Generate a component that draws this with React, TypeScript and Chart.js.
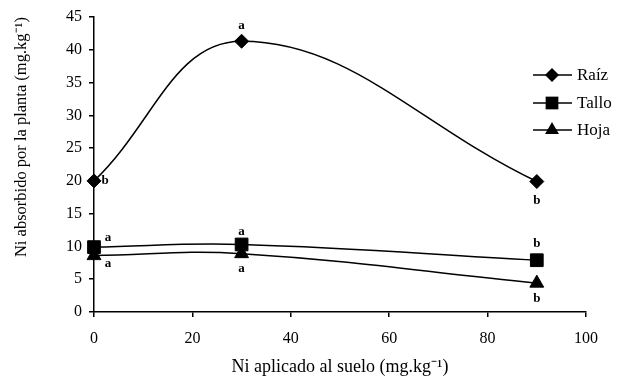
import React, { useEffect, useRef } from 'react';
import { Chart, registerables } from 'chart.js';

Chart.register(...registerables);

const xValues = [0, 30, 90];
const raizValues = [20.0, 41.3, 19.9];
const talloValues = [9.9, 10.3, 7.9];
const hojaValues = [8.6, 8.9, 4.4];
const seriesNames = ['Raíz', 'Tallo', 'Hoja'];
const raizLetters = ['b', 'a', 'b'];
const talloLetters = ['a', 'a', 'b'];
const hojaLetters = ['a', 'a', 'b'];
const xTickValues = [0, 20, 40, 60, 80, 100];
const yTickValues = [0, 5, 10, 15, 20, 25, 30, 35, 40, 45];
const xTitle = 'Ni aplicado al suelo (mg.kg⁻¹)';
const yTitle = 'Ni absorbido por la planta (mg.kg⁻¹)';

const FONT = "'Liberation Serif', 'Times New Roman', serif";

// letter placement offsets per series/point (dx, dy) in pixels
const letterOffsets = [
  [[11, 0], [0, -16], [0, 19]],
  [[14, -9], [0, -13], [0, -17]],
  [[14, 8], [0, 15], [0, 15]],
];

const styles = ['rectRot', 'rect', 'triangle'];
const radii = [7, 9, 8];

function drawMarker(ctx: CanvasRenderingContext2D, style: string, r: number, x: number, y: number) {
  ctx.beginPath();
  if (style === 'rectRot') {
    ctx.moveTo(x, y - r);
    ctx.lineTo(x + r, y);
    ctx.lineTo(x, y + r);
    ctx.lineTo(x - r, y);
  } else if (style === 'rect') {
    const s = r * Math.SQRT1_2;
    ctx.rect(x - s, y - s, 2 * s, 2 * s);
  } else {
    const size = (r * 3) / Math.sqrt(3);
    const h = (size * Math.sqrt(3)) / 2;
    ctx.moveTo(x - size / 2, y + h / 3);
    ctx.lineTo(x + size / 2, y + h / 3);
    ctx.lineTo(x, y - (2 * h) / 3);
  }
  ctx.closePath();
  ctx.fill();
}

const lettersPlugin = {
  id: 'letters',
  afterDatasetsDraw(chart: any) {
    const ctx = chart.ctx;
    const letterSets = [raizLetters, talloLetters, hojaLetters];
    ctx.save();
    ctx.fillStyle = '#000';
    ctx.font = `bold 13px ${FONT}`;
    ctx.textAlign = 'center';
    ctx.textBaseline = 'middle';
    letterSets.forEach((letters, di) => {
      const meta = chart.getDatasetMeta(di);
      meta.data.forEach((pt: any, i: number) => {
        const [dx, dy] = letterOffsets[di][i];
        ctx.fillText(letters[i], pt.x + dx, pt.y + dy);
      });
    });
    ctx.restore();
  },
};

const legendPlugin = {
  id: 'customLegend',
  afterDraw(chart: any) {
    const ctx = chart.ctx;
    ctx.save();
    const rows = [75, 103, 130];
    seriesNames.forEach((name, i) => {
      const y = rows[i];
      ctx.strokeStyle = '#000';
      ctx.lineWidth = 1.5;
      ctx.beginPath();
      ctx.moveTo(533, y);
      ctx.lineTo(572, y);
      ctx.stroke();
      ctx.fillStyle = '#000';
      drawMarker(ctx, styles[i], radii[i], 552, y);
      ctx.font = `17px ${FONT}`;
      ctx.textAlign = 'left';
      ctx.textBaseline = 'middle';
      ctx.fillText(name, 577, y + 1);
    });
    ctx.restore();
  },
};

export default function App() {
  const ref = useRef<HTMLCanvasElement>(null);
  useEffect(() => {
    document.body.style.margin = '0';
    const mk = (label: string, vals: number[], i: number) => ({
      label,
      data: xValues.map((x, k) => ({ x, y: vals[k] })),
      borderColor: '#000',
      backgroundColor: '#000',
      pointBackgroundColor: '#000',
      pointBorderColor: '#000',
      borderWidth: 1.5,
      pointStyle: styles[i],
      pointRadius: radii[i],
      pointBorderWidth: 1,
      tension: 0.4,
      clip: false as any,
    });
    const chart = new Chart(ref.current!, {
      type: 'line',
      data: {
        datasets: [
          mk(seriesNames[0], raizValues, 0),
          mk(seriesNames[1], talloValues, 1),
          mk(seriesNames[2], hojaValues, 2),
        ],
      },
      options: {
        animation: false,
        responsive: false,
        devicePixelRatio: 1,
        layout: { padding: { top: 17, right: 31, left: 0, bottom: 0 } },
        plugins: { legend: { display: false }, tooltip: { enabled: false } },
        scales: {
          x: {
            type: 'linear',
            min: 0,
            max: 100,
            afterBuildTicks: (s: any) => { s.ticks = xTickValues.map((v) => ({ value: v })); },
            afterFit: (s: any) => { s.height = 69; },
            border: { color: '#000', width: 1.5 },
            grid: { drawOnChartArea: false, color: '#000', tickLength: 5, lineWidth: 1.5 },
            ticks: { color: '#000', font: { family: FONT, size: 16 }, padding: 12, maxRotation: 0 },
            title: { display: true, text: xTitle, color: '#000', font: { family: FONT, size: 18 }, padding: { top: 0, bottom: 3 } },
          },
          y: {
            type: 'linear',
            min: 0,
            max: 45,
            afterBuildTicks: (s: any) => { s.ticks = yTickValues.map((v) => ({ value: v })); },
            afterFit: (s: any) => { s.width = 94; },
            border: { color: '#000', width: 1.5 },
            grid: { drawOnChartArea: false, color: '#000', tickLength: 5, lineWidth: 1.5 },
            ticks: { color: '#000', font: { family: FONT, size: 16 }, padding: 7 },
            title: { display: true, text: yTitle, align: 'end', color: '#000', font: { family: FONT, size: 16.5 }, padding: { top: 12, bottom: 0 } },
          },
        },
      },
      plugins: [lettersPlugin, legendPlugin],
    });
    return () => chart.destroy();
  }, []);
  return <canvas ref={ref} width={617} height={381} style={{ display: 'block' }} />;
}
